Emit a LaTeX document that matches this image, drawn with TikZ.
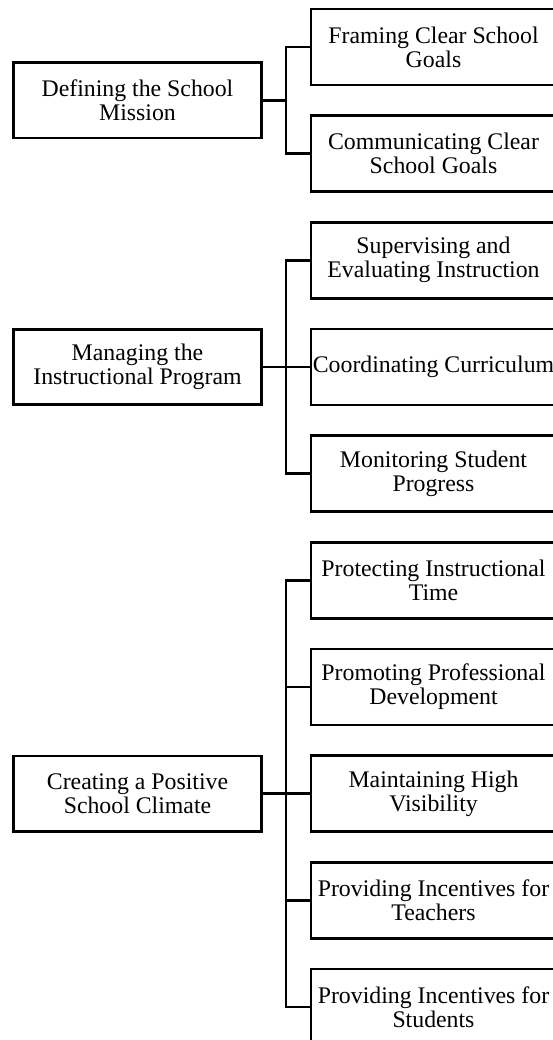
\documentclass[tikz,border=0pt]{standalone}
\usepackage{fontspec}
\setmainfont{Liberation Serif}
\begin{document}
\begin{tikzpicture}[x=1pt,y=-1pt,
  box/.style={draw=black, line width=2.8pt, fill=white, inner sep=0pt, align=center,
    font=\fontsize{23.8}{24}\selectfont},
  topic/.style={box, minimum width=248.4pt, minimum height=75.5pt},
  task/.style={box, minimum width=245pt, minimum height=76pt},
  link/.style={draw=black, line width=2.8pt, line join=miter}]
\fill[white] (0,0) rectangle (552,1040);
\useasboundingbox (0,0) rectangle (552,1040);

% column of tasks on the right
\node[task] (c0) at (433.5,47)    {Framing Clear School\\Goals};
\node[task] (c1) at (433.5,153.7) {Communicating Clear\\School Goals};
\node[task] (c2) at (433.5,260.3) {Supervising and\\Evaluating Instruction};
\node[task] (c3) at (433.5,367)   {Coordinating Curriculum};
\node[task] (c4) at (433.5,473.7) {Monitoring Student\\Progress};
\node[task] (c5) at (433.5,580.3) {Protecting Instructional\\Time};
\node[task] (c6) at (433.5,687)   {Promoting Professional\\Development};
\node[task] (c7) at (433.5,793.7) {Maintaining High\\Visibility};
\node[task] (c8) at (433.5,900.3) {Providing Incentives for\\Teachers};
\node[task] (c9) at (433.5,1007)  {Providing Incentives for\\Students};

% dimensions on the left
\node[topic] (m1) at (137.5,100.3) {Defining the School\\Mission};
\node[topic] (m2) at (137.5,367)   {Managing the\\Instructional Program};
\node[topic] (m3) at (137.5,793.7) {Creating a Positive\\School Climate};

% bus line between the columns
\coordinate (bus) at (286,0);

% Defining the School Mission
\draw[link] (m1.east) -- (m1.east -| bus);
\draw[link] (c0.west) -- (c0.west -| bus) -- (c1.west -| bus) -- (c1.west);

% Managing the Instructional Program
\draw[link] (m2.east) -- (m2.east -| bus);
\draw[link] (c2.west) -- (c2.west -| bus) -- (c4.west -| bus) -- (c4.west);
\draw[link] (c3.west -| bus) -- (c3.west);

% Creating a Positive School Climate
\draw[link] (m3.east) -- (m3.east -| bus);
\draw[link] (c5.west) -- (c5.west -| bus) -- (c9.west -| bus) -- (c9.west);
\draw[link] (c6.west -| bus) -- (c6.west);
\draw[link] (c7.west -| bus) -- (c7.west);
\draw[link] (c8.west -| bus) -- (c8.west);
\end{tikzpicture}
\end{document}
